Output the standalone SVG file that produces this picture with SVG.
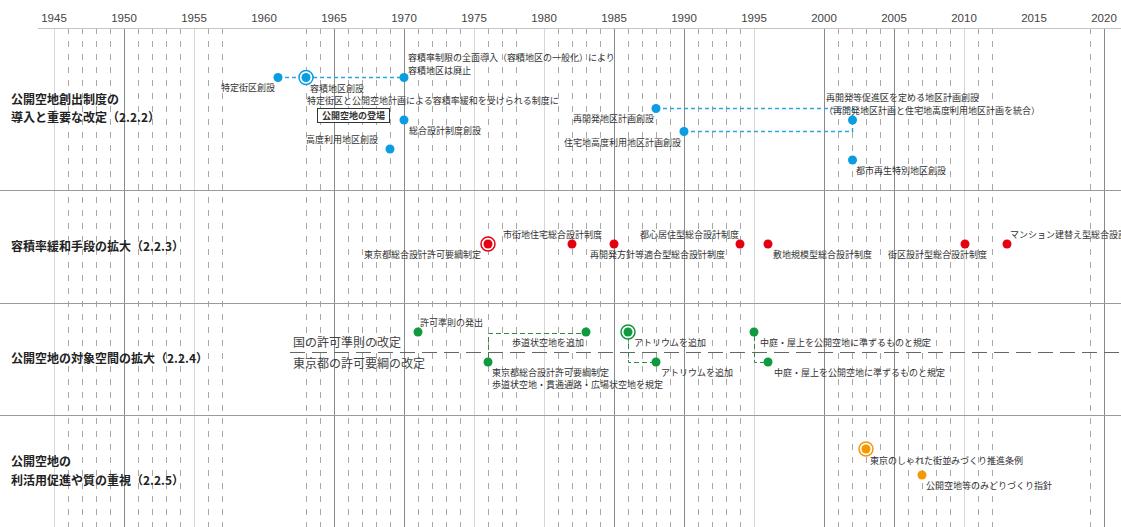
<svg xmlns="http://www.w3.org/2000/svg" width="1121" height="527" viewBox="0 0 1121 527">
<style>
.bg{fill:#fff}
.gd{stroke:#8a8a8a;stroke-width:1}
.gl{stroke:#d6d6d6;stroke-width:1}
.gx{stroke:#a8a8a8;stroke-width:1;stroke-dasharray:6 7}
.sep{stroke:#9a9a9a;stroke-width:1}
.yr{font-family:"Liberation Sans",Arial,sans-serif;font-size:11.5px;fill:#444;text-anchor:middle}
.band{font-family:"Noto Sans CJK JP",sans-serif;font-size:12px;font-weight:bold;fill:#222}
.ev{font-family:"Noto Sans CJK JP",sans-serif;font-size:9px;fill:#333}
.mid{font-family:"Noto Sans CJK JP",sans-serif;font-size:12px;fill:#444}
.end{text-anchor:end}
.b{fill:#0a9de2}.r{fill:#e60012}.g{fill:#0f9a3e}.o{fill:#f39800}
.rb{fill:#fff;stroke:#0a9de2;stroke-width:1.5}
.rr{fill:#fff;stroke:#e60012;stroke-width:1.5}
.rg{fill:#fff;stroke:#0f9a3e;stroke-width:1.5}
.ro{fill:#fff;stroke:#f39800;stroke-width:1.5}
.cb{fill:none;stroke:#2aa4e2;stroke-width:1.5;stroke-dasharray:4 3}
.cg{fill:none;stroke:#2e8b4a;stroke-width:1;stroke-dasharray:5 3}
.md{stroke:#666;stroke-width:1;stroke-dasharray:15 7}
</style>
<rect class="bg" x="0" y="0" width="1121" height="527"/>
<g id="grid">
<g class="gl">
<line x1="54.5" y1="28" x2="54.5" y2="527"/>
<line x1="194.5" y1="28" x2="194.5" y2="527"/>
<line x1="474.5" y1="28" x2="474.5" y2="527"/>
<line x1="544.5" y1="28" x2="544.5" y2="527"/>
<line x1="754.5" y1="28" x2="754.5" y2="527"/>
<line x1="964.5" y1="28" x2="964.5" y2="527"/>
</g>
<g class="gx">
<line x1="68.5" y1="28" x2="68.5" y2="527"/>
<line x1="82.5" y1="28" x2="82.5" y2="527"/>
<line x1="96.5" y1="28" x2="96.5" y2="527"/>
<line x1="110.5" y1="28" x2="110.5" y2="527"/>
<line x1="138.5" y1="28" x2="138.5" y2="527"/>
<line x1="152.5" y1="28" x2="152.5" y2="527"/>
<line x1="166.5" y1="28" x2="166.5" y2="527"/>
<line x1="180.5" y1="28" x2="180.5" y2="527"/>
<line x1="208.5" y1="28" x2="208.5" y2="527"/>
<line x1="222.5" y1="28" x2="222.5" y2="527"/>
<line x1="306.5" y1="28" x2="306.5" y2="527"/>
<line x1="320.5" y1="28" x2="320.5" y2="527"/>
<line x1="348.5" y1="28" x2="348.5" y2="527"/>
<line x1="362.5" y1="28" x2="362.5" y2="527"/>
<line x1="376.5" y1="28" x2="376.5" y2="527"/>
<line x1="390.5" y1="28" x2="390.5" y2="527"/>
<line x1="418.5" y1="28" x2="418.5" y2="527"/>
<line x1="432.5" y1="28" x2="432.5" y2="527"/>
<line x1="446.5" y1="28" x2="446.5" y2="527"/>
<line x1="460.5" y1="28" x2="460.5" y2="527"/>
<line x1="488.5" y1="28" x2="488.5" y2="527"/>
<line x1="502.5" y1="28" x2="502.5" y2="527"/>
<line x1="516.5" y1="28" x2="516.5" y2="527"/>
<line x1="558.5" y1="28" x2="558.5" y2="527"/>
<line x1="572.5" y1="28" x2="572.5" y2="527"/>
<line x1="586.5" y1="28" x2="586.5" y2="527"/>
<line x1="600.5" y1="28" x2="600.5" y2="527"/>
<line x1="628.5" y1="28" x2="628.5" y2="527"/>
<line x1="642.5" y1="28" x2="642.5" y2="527"/>
<line x1="656.5" y1="28" x2="656.5" y2="527"/>
<line x1="670.5" y1="28" x2="670.5" y2="527"/>
<line x1="698.5" y1="28" x2="698.5" y2="527"/>
<line x1="712.5" y1="28" x2="712.5" y2="527"/>
<line x1="726.5" y1="28" x2="726.5" y2="527"/>
<line x1="740.5" y1="28" x2="740.5" y2="527"/>
<line x1="838.5" y1="28" x2="838.5" y2="527"/>
<line x1="852.5" y1="28" x2="852.5" y2="527"/>
<line x1="866.5" y1="28" x2="866.5" y2="527"/>
<line x1="880.5" y1="28" x2="880.5" y2="527"/>
<line x1="908.5" y1="28" x2="908.5" y2="527"/>
<line x1="922.5" y1="28" x2="922.5" y2="527"/>
<line x1="936.5" y1="28" x2="936.5" y2="527"/>
<line x1="950.5" y1="28" x2="950.5" y2="527"/>
<line x1="978.5" y1="28" x2="978.5" y2="527"/>
<line x1="992.5" y1="28" x2="992.5" y2="527"/>
<line x1="1090.5" y1="28" x2="1090.5" y2="527"/>
</g>
<g class="gd">
<line x1="124.5" y1="28" x2="124.5" y2="527"/>
<line x1="334.5" y1="28" x2="334.5" y2="527"/>
<line x1="404.5" y1="28" x2="404.5" y2="527"/>
<line x1="614.5" y1="28" x2="614.5" y2="527"/>
<line x1="684.5" y1="28" x2="684.5" y2="527"/>
<line x1="824.5" y1="28" x2="824.5" y2="527"/>
<line x1="894.5" y1="28" x2="894.5" y2="527"/>
<line x1="1104.5" y1="28" x2="1104.5" y2="527"/>
</g>
<line x1="38" y1="28.5" x2="1121" y2="28.5" stroke="#c4c4c4" stroke-width="1"/>
<g class="sep">
<line x1="0" y1="190.5" x2="1121" y2="190.5"/>
<line x1="0" y1="303.5" x2="1121" y2="303.5"/>
<line x1="0" y1="415.5" x2="1121" y2="415.5"/>
</g>
</g>
<g id="axis-labels">
<text class="yr" x="54" y="22">1945</text>
<text class="yr" x="124" y="22">1950</text>
<text class="yr" x="194" y="22">1955</text>
<text class="yr" x="264" y="22">1960</text>
<text class="yr" x="334" y="22">1965</text>
<text class="yr" x="404" y="22">1970</text>
<text class="yr" x="474" y="22">1975</text>
<text class="yr" x="544" y="22">1980</text>
<text class="yr" x="614" y="22">1985</text>
<text class="yr" x="684" y="22">1990</text>
<text class="yr" x="754" y="22">1995</text>
<text class="yr" x="824" y="22">2000</text>
<text class="yr" x="894" y="22">2005</text>
<text class="yr" x="964" y="22">2010</text>
<text class="yr" x="1034" y="22">2015</text>
<text class="yr" x="1104" y="22">2020</text>
</g>
<g id="band-labels">
<text class="band" x="11" y="104">公開空地創出制度の</text>
<text class="band" x="11" y="122">導入と重要な改定（2.2.2）</text>
<text class="band" x="11" y="251">容積率緩和手段の拡大（2.2.3）</text>
<text class="band" x="11" y="363">公開空地の対象空間の拡大（2.2.4）</text>
<text class="band" x="11" y="466">公開空地の</text>
<text class="band" x="11" y="485">利活用促進や質の重視（2.2.5）</text>
</g>
<g id="connectors">
<polyline class="cb" points="278,77.5 404,77.5"/>
<polyline class="cb" points="656,108.5 852.5,108.5 852.5,120"/>
<polyline class="cb" points="684,131.5 852.5,131.5 852.5,120"/>
<line class="md" x1="290" y1="352.5" x2="1121" y2="352.5"/>
<polyline class="cg" points="488.5,358 488.5,333.5 586,333.5"/>
<polyline class="cg" points="628.5,336 628.5,362.5 656,362.5"/>
<polyline class="cg" points="754.5,336 754.5,362.5 768,362.5"/>
</g>
<g id="mid-labels">
<text class="mid" x="293" y="347">国の許可準則の改定</text>
<text class="mid" x="293" y="368">東京都の許可要綱の改定</text>
</g>
<g id="n1961"><circle class="b" cx="278" cy="77.5" r="4.5"/><text class="ev end" x="275" y="91">特定街区創設</text></g>
<g id="n1963"><circle class="rb" cx="306" cy="77.5" r="7"/><circle class="b" cx="306" cy="77.5" r="4.5"/><text class="ev" x="310" y="92">容積地区創設</text><text class="ev" x="307" y="104">特定街区と公開空地計画による容積率緩和を受けられる制度に</text><rect x="317.5" y="108.5" width="72" height="14" fill="#fff" stroke="#333" stroke-width="1"/><text class="ev" x="353.5" y="119" text-anchor="middle" font-weight="bold" font-size="9.5">公開空地の登場</text></g>
<g id="n1970a"><circle class="b" cx="404" cy="77.5" r="4.5"/><text class="ev" x="408" y="61">容積率制限の全面導入（容積地区の一般化）により</text><text class="ev" x="408" y="74">容積地区は廃止</text></g>
<g id="n1970b"><circle class="b" cx="404" cy="120" r="4.5"/><text class="ev" x="409" y="134">総合設計制度創設</text></g>
<g id="n1969"><circle class="b" cx="390" cy="149" r="4.5"/><text class="ev end" x="378" y="143">高度利用地区創設</text></g>
<g id="n1988a"><circle class="b" cx="656" cy="108.5" r="4.5"/><text class="ev end" x="654" y="122">再開発地区計画創設</text></g>
<g id="n1990"><circle class="b" cx="684" cy="131.5" r="4.5"/><text class="ev end" x="681" y="146">住宅地高度利用地区計画創設</text></g>
<g id="n2002a"><circle class="b" cx="852.5" cy="120" r="4.5"/><text class="ev" x="826" y="101">再開発等促進区を定める地区計画創設</text><text class="ev" x="824" y="114">（再開発地区計画と住宅地高度利用地区計画を統合）</text></g>
<g id="n2002b"><circle class="b" cx="852.5" cy="160" r="4.5"/><text class="ev" x="856" y="174">都市再生特別地区創設</text></g>
<g id="r1976"><circle class="rr" cx="488" cy="244" r="7"/><circle class="r" cx="488" cy="244" r="4.5"/><text class="ev end" x="481" y="258">東京都総合設計許可要綱制定</text></g>
<g id="r1982"><circle class="r" cx="572" cy="244" r="4.5"/><text class="ev" x="503" y="238">市街地住宅総合設計制度</text></g>
<g id="r1985"><circle class="r" cx="614" cy="244" r="4.5"/><text class="ev" x="590" y="258">再開発方針等適合型総合設計制度</text></g>
<g id="r1994"><circle class="r" cx="740" cy="244" r="4.5"/><text class="ev" x="640" y="238">都心居住型総合設計制度</text></g>
<g id="r1996"><circle class="r" cx="768" cy="244" r="4.5"/><text class="ev" x="773" y="258">敷地規模型総合設計制度</text></g>
<g id="r2010"><circle class="r" cx="965" cy="244" r="4.5"/><text class="ev" x="888" y="258">街区設計型総合設計制度</text></g>
<g id="r2013"><circle class="r" cx="1007" cy="244" r="4.5"/><text class="ev" x="1010" y="238">マンション建替え型総合設計制度</text></g>
<g id="g1971"><circle class="g" cx="418" cy="332" r="4.5"/><text class="ev" x="420" y="326">許可準則の発出</text></g>
<g id="g1976"><circle class="g" cx="488" cy="362" r="4.5"/><text class="ev" x="492" y="376">東京都総合設計許可要綱制定</text><text class="ev" x="492" y="388">歩道状空地・貫通通路・広場状空地を規定</text></g>
<g id="g1983"><circle class="g" cx="586" cy="332" r="4.5"/><text class="ev" x="512" y="346">歩道状空地を追加</text></g>
<g id="g1986"><circle class="rg" cx="628" cy="332" r="7"/><circle class="g" cx="628" cy="332" r="4.5"/><text class="ev" x="634" y="346">アトリウムを追加</text></g>
<g id="g1988"><circle class="g" cx="656" cy="362" r="4.5"/><text class="ev" x="661" y="376">アトリウムを追加</text></g>
<g id="g1995"><circle class="g" cx="754" cy="332" r="4.5"/><text class="ev" x="760" y="346">中庭・屋上を公開空地に準ずるものと規定</text></g>
<g id="g1996"><circle class="g" cx="768" cy="362" r="4.5"/><text class="ev" x="774" y="376">中庭・屋上を公開空地に準ずるものと規定</text></g>
<g id="o2003"><circle class="ro" cx="866" cy="449" r="7"/><circle class="o" cx="866" cy="449" r="4.5"/><text class="ev" x="870" y="464">東京のしゃれた街並みづくり推進条例</text></g>
<g id="o2007"><circle class="o" cx="922" cy="475" r="4.5"/><text class="ev" x="926" y="489">公開空地等のみどりづくり指針</text></g>
</svg>
